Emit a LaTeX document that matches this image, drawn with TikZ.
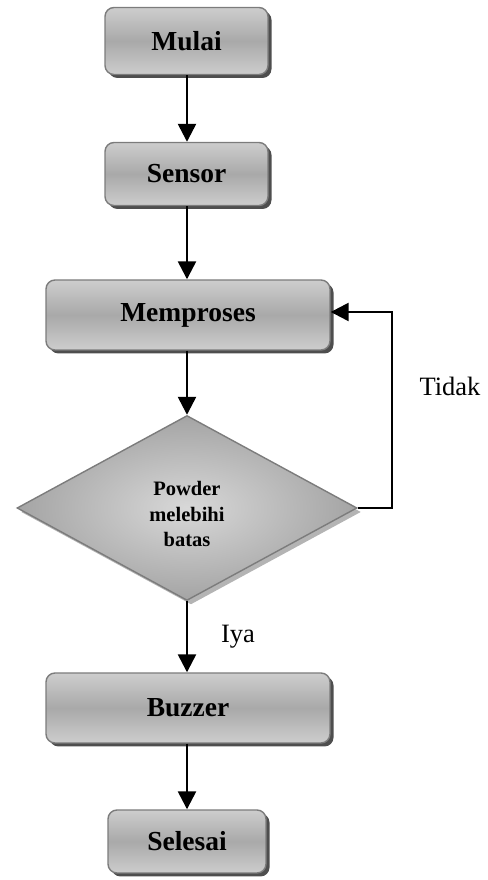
\documentclass[tikz,border=0pt]{standalone}
\usepackage{fontspec}
\setmainfont{Liberation Serif}
\usetikzlibrary{shapes.geometric,shadows,arrows.meta}
\definecolor{boxlight}{HTML}{CDCDCD}
\definecolor{boxmid}{HTML}{A9A9A9}
\definecolor{boxedge}{HTML}{7C7C7C}
\definecolor{shadowcol}{HTML}{4E4E4E}
\definecolor{diain}{HTML}{D8D8D8}
\definecolor{diaout}{HTML}{A4A4A4}
\definecolor{diashadow}{HTML}{B4B4B4}
\tikzset{
  procbox/.style={rounded corners=9pt, draw=boxedge, line width=1.4pt,
    top color=boxlight, bottom color=boxlight, middle color=boxmid,
    font=\fontsize{27.5}{30}\selectfont\bfseries, inner sep=0pt,
    drop shadow={shadow xshift=3.5pt, shadow yshift=-3.5pt, fill=shadowcol, opacity=1}},
  decbox/.style={diamond, draw=boxedge, line width=1.4pt, inner sep=0pt,
    inner color=diain, outer color=diaout,
    drop shadow={shadow xshift=4pt, shadow yshift=-4pt, fill=diashadow, opacity=1}},
  flowarrow/.style={line width=2.5pt, -{Triangle[width=18pt,length=18pt]}},
  lbl/.style={font=\fontsize{26.5}{30}\selectfont, inner sep=0pt}
}
\begin{document}
\begin{tikzpicture}[x=1pt,y=1pt]
\useasboundingbox (0,0) rectangle (487,880);
\node[procbox, minimum width=163pt, minimum height=67pt] (mulai) at (186.5,839) {Mulai};
\node[procbox, minimum width=163pt, minimum height=63pt] (sensor) at (186.5,706) {Sensor};
\node[procbox, minimum width=284pt, minimum height=70pt] (mem) at (188,565) {Memproses};
\node[decbox, minimum width=340pt, minimum height=185pt] (dia) at (187,372) {};
\node[font=\fontsize{20.5}{25.5}\selectfont\bfseries, align=center, inner sep=0pt] (diatext) at (187,366) {Powder\\melebihi\\batas};
\node[procbox, minimum width=284pt, minimum height=70pt] (buzzer) at (188,172) {Buzzer};
\node[procbox, minimum width=158pt, minimum height=63pt] (selesai) at (187,38.5) {Selesai};
\node[lbl] (tidak) at (450,494) {Tidak};
\node[lbl] (iya) at (238,243) {Iya};
\coordinate (fbx) at (392,0);
\draw[flowarrow] (mulai.south -| dia.north) -- (sensor.north -| dia.north);
\draw[flowarrow] (sensor.south -| dia.north) -- (mem.north -| dia.north);
\draw[flowarrow] (mem.south -| dia.north) -- (dia.north);
\draw[flowarrow] (dia.south) -- (buzzer.north -| dia.south);
\draw[flowarrow] (buzzer.south -| dia.south) -- (selesai.north -| dia.south);
\draw[flowarrow] (dia.east) -- (dia.east -| fbx) -- ([yshift=3pt]fbx |- mem.east) -- ([yshift=3pt]mem.east);
\end{tikzpicture}
\end{document}
